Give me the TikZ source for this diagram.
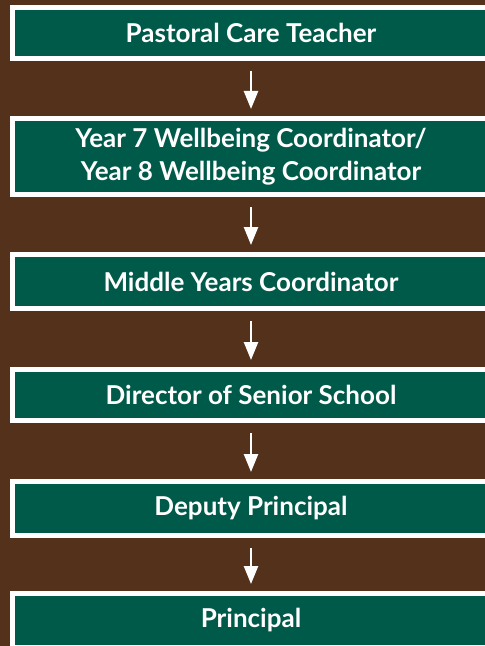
\documentclass[tikz,border=0pt]{standalone}
\usepackage{fontspec}
\setmainfont{Lato}
\usetikzlibrary{arrows.meta}
\definecolor{bgbrown}{HTML}{54311A}
\definecolor{boxgreen}{HTML}{005A49}
\begin{document}
\begin{tikzpicture}[x=1bp,y=-1bp,
  stepbox/.style={draw=white, line width=5bp, fill=boxgreen, rectangle,
    minimum width=477bp, inner sep=0pt, text=white, align=center,
    font=\fontsize{26bp}{33bp}\selectfont\bfseries},
  flow/.style={draw=white, line width=2.5bp, -{Triangle[width=14bp,length=18bp]}}]
\fill[bgbrown] (0,0) rectangle (485,646);
\useasboundingbox (0,0) rectangle (485,646);
\node[stepbox, minimum height=51bp] (b1) at (251,33) {Pastoral Care Teacher};
\node[stepbox, minimum height=76bp] (b2) at (251,156.5) {Year 7 Wellbeing Coordinator/\\Year 8 Wellbeing Coordinator};
\node[stepbox, minimum height=54bp] (b3) at (251,281.5) {Middle Years Coordinator};
\node[stepbox, minimum height=51bp] (b4) at (251,395) {Director of Senior School};
\node[stepbox, minimum height=54bp] (b5) at (251,508.5) {Deputy Principal};
\node[stepbox, minimum height=54bp] (b6) at (251,620.5) {Principal};
\foreach \a/\b in {b1/b2,b2/b3,b3/b4,b4/b5,b5/b6}
  \draw[flow] ([yshift=-10bp]\a.south) -- ([yshift=7bp]\b.north);
\end{tikzpicture}
\end{document}
